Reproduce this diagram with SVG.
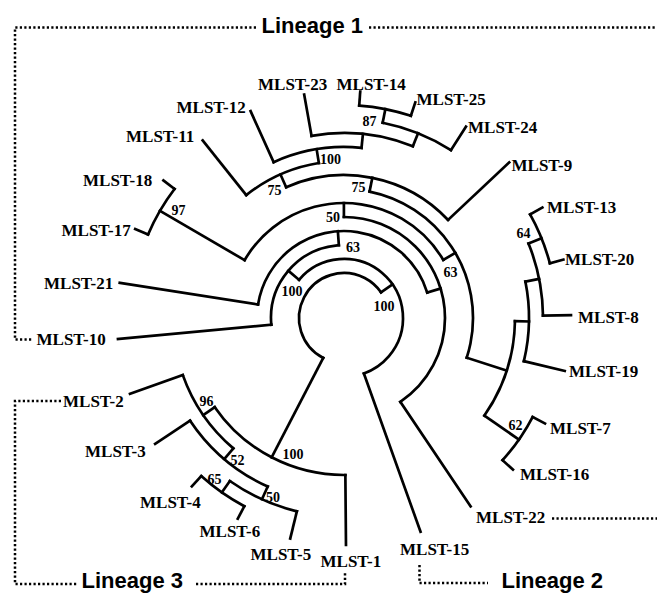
<svg xmlns="http://www.w3.org/2000/svg" width="657" height="593" viewBox="0 0 657 593">
<style>
.br{fill:none;stroke:#000;stroke-width:2.7;stroke-linecap:square}
.lbl{font-family:"Liberation Serif","Times New Roman",serif;font-weight:bold;font-size:17px;fill:#000}
.bs{font-family:"Liberation Serif","Times New Roman",serif;font-weight:bold;font-size:14px;fill:#000}
.lin{font-family:"Liberation Sans",Arial,sans-serif;font-weight:bold;font-size:22px;fill:#000}
.dot{fill:none;stroke:#000;stroke-width:2.5;stroke-dasharray:2.2 2.3}
</style>
<rect width="657" height="593" fill="#fff"/>
<g id="connectors" class="br" transform="translate(344,318)">
  <circle r="45" pathLength="360" stroke-dasharray="207.85 400" transform="rotate(117.45)"/>
  <circle r="59" pathLength="360" stroke-dasharray="209.97 400" transform="rotate(220.33)"/>
  <circle r="73" pathLength="360" stroke-dasharray="91.26 400" transform="rotate(174.7)"/>
  <circle r="87" pathLength="360" stroke-dasharray="154.12 400" transform="rotate(188.9)"/>
  <circle r="101" pathLength="360" stroke-dasharray="146.16 400" transform="rotate(269.94)"/>
  <circle r="115" pathLength="360" stroke-dasharray="119.48 400" transform="rotate(210.2)"/>
  <circle r="129" pathLength="360" stroke-dasharray="96.52 400" transform="rotate(281.42)"/>
  <circle r="143" pathLength="360" stroke-dasharray="70.56 400" transform="rotate(246.14)"/>
  <circle r="157" pathLength="360" stroke-dasharray="29.29 400" transform="rotate(231.5)"/>
  <circle r="171" pathLength="360" stroke-dasharray="30.175 400" transform="rotate(245.7)"/>
  <circle r="185" pathLength="360" stroke-dasharray="31.95 400" transform="rotate(259.9)"/>
  <circle r="199" pathLength="360" stroke-dasharray="21.3 400" transform="rotate(281.2)"/>
  <circle r="213" pathLength="360" stroke-dasharray="14.2 400" transform="rotate(274.1)"/>
  <circle r="213" pathLength="360" stroke-dasharray="14.2 400" transform="rotate(203.1)"/>
  <circle r="171" pathLength="360" stroke-dasharray="33.725 400" transform="rotate(1.075)"/>
  <circle r="185" pathLength="360" stroke-dasharray="24.85 400" transform="rotate(348.65)"/>
  <circle r="199" pathLength="360" stroke-dasharray="21.3 400" transform="rotate(338)"/>
  <circle r="213" pathLength="360" stroke-dasharray="14.2 400" transform="rotate(330.9)"/>
  <circle r="213" pathLength="360" stroke-dasharray="14.2 400" transform="rotate(27.7)"/>
  <circle r="157" pathLength="360" stroke-dasharray="55.9 400" transform="rotate(89.5)"/>
  <circle r="171" pathLength="360" stroke-dasharray="30.17 400" transform="rotate(130.33)"/>
  <circle r="185" pathLength="360" stroke-dasharray="31.95 400" transform="rotate(114.35)"/>
  <circle r="199" pathLength="360" stroke-dasharray="21.3 400" transform="rotate(103.7)"/>
  <circle r="213" pathLength="360" stroke-dasharray="14.2 400" transform="rotate(117.9)"/>
  <line x1="45" x2="59" transform="rotate(325.3)"/>
  <line x1="45" x2="157" transform="rotate(117.45)"/>
  <line x1="59" x2="73" transform="rotate(220.33)"/>
  <line x1="59" x2="227" transform="rotate(70.3)"/>
  <line x1="73" x2="227" transform="rotate(174.7)"/>
  <line x1="73" x2="87" transform="rotate(265.96)"/>
  <line x1="87" x2="227" transform="rotate(188.9)"/>
  <line x1="87" x2="101" transform="rotate(343.02)"/>
  <line x1="101" x2="115" transform="rotate(269.94)"/>
  <line x1="101" x2="227" transform="rotate(56.1)"/>
  <line x1="115" x2="213" transform="rotate(210.2)"/>
  <line x1="115" x2="129" transform="rotate(329.68)"/>
  <line x1="129" x2="143" transform="rotate(281.42)"/>
  <line x1="129" x2="171" transform="rotate(17.94)"/>
  <line x1="143" x2="157" transform="rotate(246.14)"/>
  <line x1="143" x2="227" transform="rotate(316.7)"/>
  <line x1="157" x2="227" transform="rotate(231.5)"/>
  <line x1="157" x2="171" transform="rotate(260.79)"/>
  <line x1="171" x2="227" transform="rotate(245.7)"/>
  <line x1="171" x2="185" transform="rotate(275.875)"/>
  <line x1="185" x2="227" transform="rotate(259.9)"/>
  <line x1="185" x2="199" transform="rotate(291.85)"/>
  <line x1="199" x2="213" transform="rotate(281.2)"/>
  <line x1="199" x2="227" transform="rotate(302.5)"/>
  <line x1="213" x2="227" transform="rotate(274.1)"/>
  <line x1="213" x2="227" transform="rotate(288.3)"/>
  <line x1="213" x2="227" transform="rotate(203.1)"/>
  <line x1="213" x2="227" transform="rotate(217.3)"/>
  <line x1="171" x2="185" transform="rotate(1.075)"/>
  <line x1="171" x2="213" transform="rotate(34.8)"/>
  <line x1="185" x2="199" transform="rotate(348.65)"/>
  <line x1="185" x2="227" transform="rotate(13.5)"/>
  <line x1="199" x2="213" transform="rotate(338)"/>
  <line x1="199" x2="227" transform="rotate(359.3)"/>
  <line x1="213" x2="227" transform="rotate(330.9)"/>
  <line x1="213" x2="227" transform="rotate(345.1)"/>
  <line x1="213" x2="227" transform="rotate(27.7)"/>
  <line x1="213" x2="227" transform="rotate(41.9)"/>
  <line x1="157" x2="227" transform="rotate(89.5)"/>
  <line x1="157" x2="171" transform="rotate(145.4)"/>
  <line x1="171" x2="185" transform="rotate(130.33)"/>
  <line x1="171" x2="227" transform="rotate(160.5)"/>
  <line x1="185" x2="199" transform="rotate(114.35)"/>
  <line x1="185" x2="227" transform="rotate(146.3)"/>
  <line x1="199" x2="213" transform="rotate(125)"/>
  <line x1="199" x2="227" transform="rotate(103.7)"/>
  <line x1="213" x2="227" transform="rotate(117.9)"/>
  <line x1="213" x2="227" transform="rotate(132.1)"/>
</g>
<g id="support" class="bs">
  <text x="362.5" y="126">87</text>
  <text x="320" y="163.5">100</text>
  <text x="267.5" y="195">75</text>
  <text x="351.5" y="191.5">75</text>
  <text x="171.5" y="215">97</text>
  <text x="326" y="221.5">50</text>
  <text x="346" y="251.5">63</text>
  <text x="443.5" y="276.5">63</text>
  <text x="281.5" y="296">100</text>
  <text x="373.5" y="310.5">100</text>
  <text x="516.5" y="238">64</text>
  <text x="508.5" y="430">62</text>
  <text x="199.5" y="406">96</text>
  <text x="230.5" y="465">52</text>
  <text x="207.5" y="484">65</text>
  <text x="266" y="501.5">50</text>
  <text x="282.5" y="459">100</text>
</g>
<g id="mlst-23" class="lbl"><text x="258" y="89.5">MLST-23</text></g>
<g id="mlst-14" class="lbl"><text x="336.5" y="89.5">MLST-14</text></g>
<g id="mlst-25" class="lbl"><text x="416.5" y="105">MLST-25</text></g>
<g id="mlst-12" class="lbl"><text x="176.5" y="112.5">MLST-12</text></g>
<g id="mlst-24" class="lbl"><text x="468" y="133">MLST-24</text></g>
<g id="mlst-11" class="lbl"><text x="126" y="141.5">MLST-11</text></g>
<g id="mlst-9" class="lbl"><text x="511.5" y="170.5">MLST-9</text></g>
<g id="mlst-18" class="lbl"><text x="83" y="186">MLST-18</text></g>
<g id="mlst-13" class="lbl"><text x="547" y="212.5">MLST-13</text></g>
<g id="mlst-17" class="lbl"><text x="61.5" y="236">MLST-17</text></g>
<g id="mlst-20" class="lbl"><text x="565" y="265">MLST-20</text></g>
<g id="mlst-21" class="lbl"><text x="44" y="288.5">MLST-21</text></g>
<g id="mlst-8" class="lbl"><text x="578" y="323">MLST-8</text></g>
<g id="mlst-10" class="lbl"><text x="36.5" y="345">MLST-10</text></g>
<g id="mlst-19" class="lbl"><text x="569" y="376.5">MLST-19</text></g>
<g id="mlst-2" class="lbl"><text x="63" y="406.5">MLST-2</text></g>
<g id="mlst-7" class="lbl"><text x="550" y="434">MLST-7</text></g>
<g id="mlst-3" class="lbl"><text x="85" y="457">MLST-3</text></g>
<g id="mlst-16" class="lbl"><text x="520" y="480">MLST-16</text></g>
<g id="mlst-4" class="lbl"><text x="140" y="507.5">MLST-4</text></g>
<g id="mlst-22" class="lbl"><text x="476" y="523">MLST-22</text></g>
<g id="mlst-6" class="lbl"><text x="199.5" y="536.5">MLST-6</text></g>
<g id="mlst-15" class="lbl"><text x="400" y="555">MLST-15</text></g>
<g id="mlst-5" class="lbl"><text x="250.5" y="560">MLST-5</text></g>
<g id="mlst-1" class="lbl"><text x="320.5" y="566.5">MLST-1</text></g>
<g id="lineage-1">
  <path class="dot" d="M256 27.5H15V339.5H33M369 27.5H657"/>
  <text class="lin" x="261.5" y="33">Lineage 1</text>
</g>
<g id="lineage-2">
  <path class="dot" d="M419.5 565V583H488M552 518.5H657"/>
  <text class="lin" x="501.5" y="587.5">Lineage 2</text>
</g>
<g id="lineage-3">
  <path class="dot" d="M61 401H15V584H77M196 584H345V571"/>
  <text class="lin" x="81.5" y="587.5">Lineage 3</text>
</g>
</svg>
